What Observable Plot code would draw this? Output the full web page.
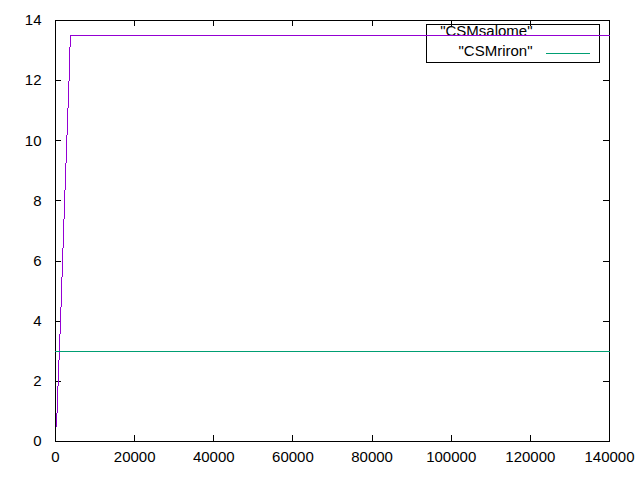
<!DOCTYPE html>
<html>
<head>
<meta charset="utf-8">
<script src="https://cdn.jsdelivr.net/npm/d3@7"></script>
<script src="https://cdn.jsdelivr.net/npm/@observablehq/plot@0.6"></script>
<style>
  html, body { margin: 0; padding: 0; background: #fff; }
  svg { display: block; }
</style>
</head>
<body>
<div id="chart"></div>
<script>
// Data
const salomeX = [250, 1350, 2360, 3450, 3750, 140000];
const salomeY = [0.5, 4.3, 8.2, 12.1, 13.5, 13.5];
const rironX = [0, 140000];
const rironY = [3, 3];
const seriesNames = ["\"CSMsalome\"", "\"CSMriron\""];
const xTicks = [0, 20000, 40000, 60000, 80000, 100000, 120000, 140000];
const yTicks = [0, 2, 4, 6, 8, 10, 12, 14];

const purple = "#9400d3";
const green = "#009e73";

const salome = salomeX.map((x, i) => ({x, y: salomeY[i]}));
const riron = rironX.map((x, i) => ({x, y: rironY[i]}));

const W = 640, H = 480;
const mL = 55, mR = 31, mT = 20, mB = 39;
const iW = W - mL - mR, iH = H - mT - mB;
const tk = 6;
const fs = 15;

const chart = Plot.plot({
  width: W,
  height: H,
  marginLeft: mL,
  marginRight: mR,
  marginTop: mT,
  marginBottom: mB,
  style: {fontFamily: "'Liberation Sans', Arial, sans-serif", fontSize: fs + "px", background: "#fff", color: "#000"},
  x: {domain: [0, 140000]},
  y: {domain: [0, 14]},
  marks: [
    Plot.axisX(xTicks, {anchor: "bottom", tickSize: 0, tickPadding: 10, tickFormat: d => String(d), label: null, fontSize: fs, fill: "#000"}),
    Plot.axisY(yTicks, {anchor: "left", tickSize: 0, tickPadding: 14, tickFormat: d => String(d), label: null, fontSize: fs, fill: "#000"}),
    // inward ticks, mirrored on top and right
    Plot.ruleX(xTicks, {x: d => d, insetTop: iH - tk, stroke: "#000", shapeRendering: "crispEdges"}),
    Plot.ruleX(xTicks, {x: d => d, insetBottom: iH - tk, stroke: "#000", shapeRendering: "crispEdges"}),
    Plot.ruleY(yTicks, {y: d => d, insetRight: iW - tk, stroke: "#000", shapeRendering: "crispEdges"}),
    Plot.ruleY(yTicks, {y: d => d, insetLeft: iW - tk, stroke: "#000", shapeRendering: "crispEdges"}),
    Plot.frame({stroke: "#000", strokeWidth: 1, shapeRendering: "crispEdges"}),
    // legend
    Plot.frame({stroke: "#000", strokeWidth: 1, insetLeft: 371, insetRight: 10, insetTop: 4, insetBottom: iH - 42, shapeRendering: "crispEdges"}),
    Plot.text([seriesNames[0]], {frameAnchor: "top-right", dx: -77, dy: 11, textAnchor: "end", lineAnchor: "middle", fill: "#000", fontSize: fs}),
    Plot.text([seriesNames[1]], {frameAnchor: "top-right", dx: -77, dy: 31, textAnchor: "end", lineAnchor: "middle", fill: "#000", fontSize: fs}),
    Plot.ruleY([13.5], {insetLeft: 491, insetRight: 19, stroke: purple, shapeRendering: "crispEdges"}),
    Plot.ruleY([14], {insetLeft: 491, insetRight: 19, dy: 33, stroke: green, shapeRendering: "crispEdges"}),
    // data
    Plot.line(salome, {x: "x", y: "y", stroke: purple, strokeWidth: 1, shapeRendering: "crispEdges"}),
    Plot.line(riron, {x: "x", y: "y", stroke: green, strokeWidth: 1, shapeRendering: "crispEdges"})
  ]
});
document.getElementById("chart").appendChild(chart);
</script>
</body>
</html>
